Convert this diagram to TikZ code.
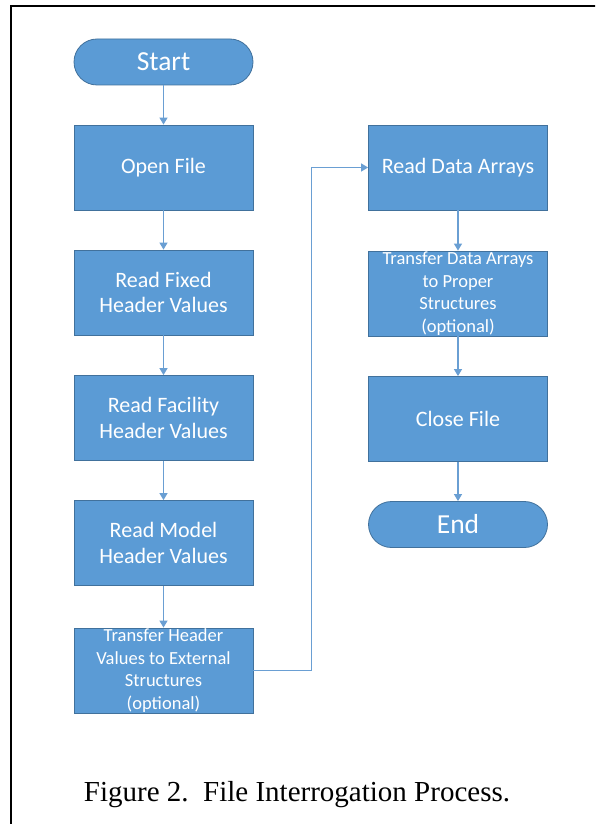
\documentclass[tikz,border=0pt]{standalone}
\usepackage{fontspec}
\setmainfont{Liberation Serif}
\newfontfamily\boxfont{Carlito}
\usetikzlibrary{arrows.meta}
\definecolor{boxblue}{HTML}{5B9BD5}
\definecolor{edgeblue}{HTML}{41719C}
\definecolor{linkblue}{HTML}{6A9FD3}

\begin{document}
\begin{tikzpicture}[x=1pt,y=-1pt]
\tikzstyle{every node}+=[inner sep=0pt]
\tikzstyle{proc}=[draw=edgeblue, fill=boxblue, line width=0.8pt, text=white, align=center, minimum width=179pt, minimum height=85pt, font=\boxfont\fontsize{22}{25.5}\selectfont]
\tikzstyle{procsmall}=[proc, font=\boxfont\fontsize{18.5}{22.5}\selectfont]
\tikzstyle{term}=[proc, minimum height=46pt, rounded corners=23pt, font=\boxfont\fontsize{27.5}{30}\selectfont]
\tikzstyle{flow}=[draw=linkblue, line width=1.2pt, -{Triangle[width=8pt,length=7pt]}]
\useasboundingbox (0,0) rectangle (595,824);
\fill [white] (0,0) rectangle (595,824);
\clip (0,0) rectangle (595,824);
\draw [black, line width=2pt] (10.5,6.5) rectangle (620,850);
\node [term] (start) at (163.5,62) {Start};
\node [proc] (open) at (163.5,167.5) {Open File};
\node [proc] (fixed) at (163.5,292.5) {Read Fixed\\Header Values};
\node [proc] (facility) at (163.5,418) {Read Facility\\Header Values};
\node [proc] (model) at (163.5,543) {Read Model\\Header Values};
\node [procsmall] (xferhdr) at (163.5,670.5) {Transfer Header\\Values to External\\Structures\\(optional)};
\node [proc] (readdata) at (458,167.5) {Read Data Arrays};
\node [procsmall] (xferdata) at (458,293.5) {Transfer Data Arrays\\to Proper\\Structures\\(optional)};
\node [proc] (close) at (458,419) {Close File};
\node [term] (end) at (458,524.5) {End};
\node [font=\fontsize{29}{34}\selectfont] (caption) at (297,795) {Figure 2.\ \ File Interrogation Process.};
\draw [flow] (start) -- (open);
\draw [flow] (open) -- (fixed);
\draw [flow] (fixed) -- (facility);
\draw [flow] (facility) -- (model);
\draw [flow] (model) -- (xferhdr);
\draw [flow] (xferhdr.east) -- ++(58,0) |- (readdata.west);
\draw [flow] (readdata) -- (xferdata);
\draw [flow] (xferdata) -- (close);
\draw [flow] (close) -- (end);
\end{tikzpicture}
\end{document}
